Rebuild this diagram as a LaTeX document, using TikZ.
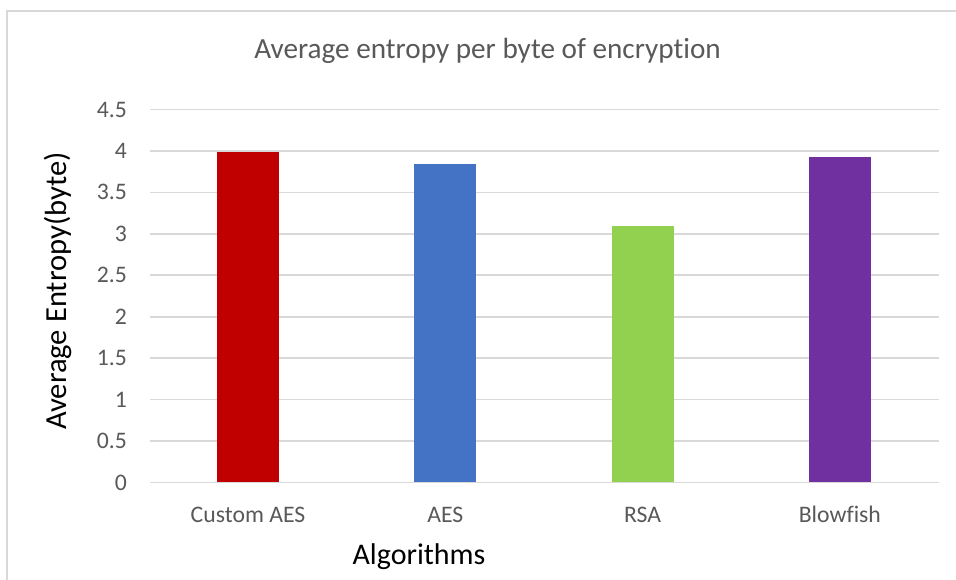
\documentclass[tikz,border=0pt]{standalone}
\usepackage{fontspec}
\setmainfont{Carlito}[Ligatures=NoCommon]
\definecolor{framegray}{HTML}{D9D9D9}
\definecolor{gridgray}{HTML}{D9D9D9}
\definecolor{labelgray}{HTML}{595959}
\definecolor{barred}{HTML}{C00000}
\definecolor{barblue}{HTML}{4472C4}
\definecolor{bargreen}{HTML}{92D050}
\definecolor{barpurple}{HTML}{7030A0}
\begin{document}
\begin{tikzpicture}[x=1pt,y=-1pt,
  gridline/.style={draw=gridgray,line width=1.6pt},
  ticklabel/.style={text=labelgray,inner sep=0pt,anchor=base east,
    font=\fontsize{23.7}{28}\selectfont},
  catlabel/.style={text=labelgray,inner sep=0pt,anchor=base,
    font=\fontsize{23.7}{28}\selectfont},
  axistitle/.style={text=black,inner sep=0pt,anchor=base,
    font=\fontsize{30}{36}\selectfont},
  charttitle/.style={text=labelgray,inner sep=0pt,anchor=base,
    font=\fontsize{29.2}{35}\selectfont}]
\useasboundingbox (0,0) rectangle (956,579);
\clip (0,0) rectangle (956,579);
\fill[white] (0,0) rectangle (956,579);
% chart frame (left and top edges fall inside the page)
\draw[framegray,line width=1.5pt] (7,600) -- (7,11) -- (980,11);
% title
\node[charttitle] (title) at (487.5,58) {Average entropy per byte of encryption};
% horizontal grid lines and value labels
\foreach \v [count=\k] in {0.5,1,1.5,2,2.5,3,3.5,4,4.5} {
  \pgfmathsetmacro\yy{482.5-82.9*\v}
  \draw[gridline] (150,\yy) -- (939,\yy);
  \node[ticklabel] (tick\k) at (127,\yy+7.6) {\v};
}
\node[ticklabel] (tick0) at (127,482.5+7.6) {0};
% bars and category labels
\foreach \i/\v/\c/\lab in {0/3.99/barred/Custom AES,1/3.84/barblue/AES,
                           2/3.09/bargreen/RSA,3/3.93/barpurple/Blowfish} {
  \pgfmathsetmacro\cx{248+197.3*\i}
  \pgfmathsetmacro\top{482.5-82.9*\v}
  \fill[\c] (\cx-31,482.5) rectangle (\cx+31,\top);
  \node[catlabel] (cat\i) at (\cx,522) {\lab};
}
% zero line
\draw[gridline] (150,482.5) -- (939,482.5);
% axis titles
\node[axistitle] (xtitle) at (419,564) {Algorithms};
\node[axistitle,rotate=90,font=\fontsize{30.6}{36}\selectfont] (ytitle) at (66.5,291) {Average Entropy(byte)};
\end{tikzpicture}
\end{document}
